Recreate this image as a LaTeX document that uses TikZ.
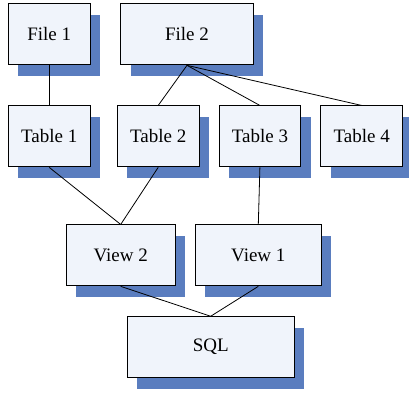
\documentclass[tikz,border=0pt]{standalone}
\usepackage{fontspec}
\setmainfont{Liberation Serif}
\usetikzlibrary{shadows}
\definecolor{boxfill}{HTML}{F0F4FB}
\definecolor{shadowblue}{HTML}{5A7DBF}
\begin{document}
\begin{tikzpicture}[x=1pt,y=-1pt,
  box/.style={draw=black, line width=0.9pt, fill=boxfill, minimum height=61pt, inner sep=0pt,
    font=\fontsize{19}{22}\selectfont,
    general shadow={fill=shadowblue, shadow xshift=10pt, shadow yshift=-11pt}},
  link/.style={draw=black, line width=0.8pt}]
\useasboundingbox (0,0) rectangle (409,392);
\node[box, minimum width=81.7pt] (f1) at (49.2,34.4) {File 1};
\node[box, minimum width=132.6pt] (f2) at (187,34.4) {File 2};
\node[box, minimum width=81.7pt] (t1) at (49.2,136.4) {Table 1};
\node[box, minimum width=81.7pt] (t2) at (158.2,136.4) {Table 2};
\node[box, minimum width=81.7pt] (t3) at (259.9,136.4) {Table 3};
\node[box, minimum width=82pt] (t4) at (361.7,136.4) {Table 4};
\node[box, minimum width=109.3pt] (v2) at (120.7,255.4) {View 2};
\node[box, minimum width=126pt] (v1) at (258.3,255.4) {View 1};
\node[box, minimum width=166.7pt] (sql) at (210.7,347.2) {SQL};
\draw[link] (f1.south) -- (t1.north);
\draw[link] (f2.south) -- (t2.north);
\draw[link] (f2.south) -- (t3.north);
\draw[link] (f2.south) -- (t4.north);
\draw[link] (t1.south) -- (v2.north);
\draw[link] (t2.south) -- (v2.north);
\draw[link] (t3.south) -- (v1.north);
\draw[link] (v2.south) -- (sql.north);
\draw[link] (v1.south) -- (sql.north);
\end{tikzpicture}
\end{document}
